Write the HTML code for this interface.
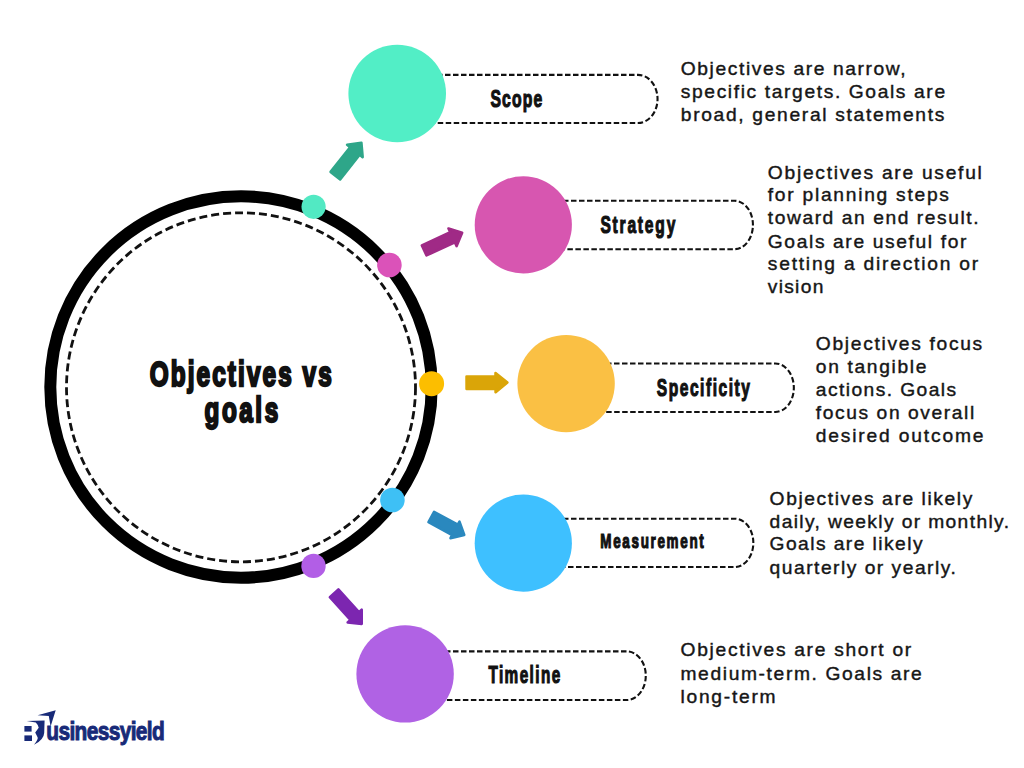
<!DOCTYPE html>
<html><head><meta charset="utf-8"><title>Objectives vs goals</title>
<style>
html,body{margin:0;padding:0;background:#fff;}
body{width:1024px;height:768px;overflow:hidden;}
svg{display:block;}
text{font-family:"Liberation Sans",sans-serif;}
.lbl{font-weight:bold;fill:#111;stroke:#111;stroke-width:1.2px;}
.body{fill:#161616;font-size:18.3px;stroke:#161616;stroke-width:0.4px;}
</style></head><body>
<svg width="1024" height="768" viewBox="0 0 1024 768">
<rect width="1024" height="768" fill="#fff"/>

<path d="M397.0 74.9 H638.0 A19.5 24.0 0 0 1 638.0 123.0 H397.0" fill="none" stroke="#111" stroke-width="2.1" stroke-dasharray="5.5 2.5"/>
<path d="M523.0 200.7 H734.4 A18.5 24.2 0 0 1 734.4 249.2 H523.0" fill="none" stroke="#111" stroke-width="2.1" stroke-dasharray="5.5 2.5"/>
<path d="M566.0 363.5 H775.3 A18.5 24.2 0 0 1 775.3 412.0 H566.0" fill="none" stroke="#111" stroke-width="2.1" stroke-dasharray="5.5 2.5"/>
<path d="M523.0 518.7 H734.8 A18.5 24.1 0 0 1 734.8 567.0 H523.0" fill="none" stroke="#111" stroke-width="2.1" stroke-dasharray="5.5 2.5"/>
<path d="M405.0 651.4 H626.8 A19.0 24.3 0 0 1 626.8 700.0 H405.0" fill="none" stroke="#111" stroke-width="2.1" stroke-dasharray="5.5 2.5"/>
<circle cx="241" cy="387" r="190.7" fill="#fff" stroke="#000" stroke-width="12"/>
<circle cx="241" cy="387.3" r="174.5" fill="none" stroke="#111" stroke-width="2.8" stroke-dasharray="8 4"/>
<circle cx="397.2" cy="93.5" r="48.8" fill="#52EEC6"/>
<circle cx="523.3" cy="224.8" r="48.6" fill="#D756B0"/>
<circle cx="566.1" cy="383.6" r="48.7" fill="#FAC044"/>
<circle cx="523.3" cy="543.2" r="48.6" fill="#3EC0FF"/>
<circle cx="405.1" cy="673.9" r="48.7" fill="#B062E4"/>
<circle cx="313.6" cy="206.8" r="12.1" fill="#52E9C3"/>
<circle cx="389.4" cy="265.0" r="12.3" fill="#DB52B9"/>
<circle cx="431.6" cy="383.7" r="12.5" fill="#FCBE00"/>
<circle cx="392.4" cy="500.0" r="12.3" fill="#3EC0F5"/>
<circle cx="313.5" cy="565.9" r="12.2" fill="#B25EE6"/>
<polygon points="330.59,171.91 350.08,147.21 347.10,144.85 361.39,142.72 362.64,157.12 359.66,154.77 340.17,179.47" fill="#2EA689" stroke="#2EA689" stroke-width="2.6" stroke-linejoin="round"/>
<polygon points="421.89,245.43 450.25,232.29 448.49,228.48 462.12,232.85 456.65,246.08 454.88,242.27 426.52,255.41" fill="#A02A86" stroke="#A02A86" stroke-width="2.6" stroke-linejoin="round"/>
<polygon points="466.55,376.50 495.54,376.36 495.53,372.96 507.40,382.51 495.61,392.16 495.60,388.76 466.61,388.90" fill="#DAA508" stroke="#DAA508" stroke-width="2.6" stroke-linejoin="round"/>
<polygon points="434.08,511.83 457.80,524.71 459.49,521.59 464.26,534.88 450.52,538.11 452.21,534.99 428.49,522.11" fill="#2A88BE" stroke="#2A88BE" stroke-width="2.6" stroke-linejoin="round"/>
<polygon points="338.39,589.42 358.94,612.17 361.68,609.69 361.73,623.84 347.66,622.36 350.40,619.88 329.86,597.13" fill="#7C26B0" stroke="#7C26B0" stroke-width="2.6" stroke-linejoin="round"/>
<text class="lbl" transform="translate(149.8,385.8) scale(0.68,1)" font-size="35.8" textLength="267.6" lengthAdjust="spacing" style="stroke-width:2.4px">Objectives vs</text>
<text class="lbl" transform="translate(204.6,421.5) scale(0.68,1)" font-size="35.8" textLength="108.2" lengthAdjust="spacing" style="stroke-width:2.4px">goals</text>
<text class="lbl" transform="translate(490.4,107.3) scale(0.64,1)" font-size="24.6" textLength="80.9" lengthAdjust="spacing">Scope</text>
<text class="lbl" transform="translate(600.4,233.4) scale(0.64,1)" font-size="24.3" textLength="117.0" lengthAdjust="spacing">Strategy</text>
<text class="lbl" transform="translate(656.8,396.2) scale(0.64,1)" font-size="24.3" textLength="145.5" lengthAdjust="spacing">Specificity</text>
<text class="lbl" transform="translate(600.3,548.2) scale(0.64,1)" font-size="21.0" textLength="161.7" lengthAdjust="spacing">Measurement</text>
<text class="lbl" transform="translate(488.4,682.8) scale(0.64,1)" font-size="23.9" textLength="112.3" lengthAdjust="spacing">Timeline</text>
<text class="body" transform="translate(680.8,75.3) scale(1.05,1)" textLength="214.0" lengthAdjust="spacing">Objectives are narrow,</text>
<text class="body" transform="translate(680.8,98.2) scale(1.05,1)" textLength="251.7" lengthAdjust="spacing">specific targets. Goals are</text>
<text class="body" transform="translate(680.8,121.0) scale(1.05,1)" textLength="251.0" lengthAdjust="spacing">broad, general statements</text>
<text class="body" transform="translate(767.8,178.6) scale(1.05,1)" textLength="203.9" lengthAdjust="spacing">Objectives are useful</text>
<text class="body" transform="translate(767.8,201.2) scale(1.05,1)" textLength="172.5" lengthAdjust="spacing">for planning steps</text>
<text class="body" transform="translate(767.8,224.4) scale(1.05,1)" textLength="200.7" lengthAdjust="spacing">toward an end result.</text>
<text class="body" transform="translate(767.8,247.5) scale(1.05,1)" textLength="189.1" lengthAdjust="spacing">Goals are useful for</text>
<text class="body" transform="translate(767.8,270.1) scale(1.05,1)" textLength="200.3" lengthAdjust="spacing">setting a direction or</text>
<text class="body" transform="translate(767.8,292.7) scale(1.05,1)" textLength="52.9" lengthAdjust="spacing">vision</text>
<text class="body" transform="translate(815.8,350.0) scale(1.05,1)" textLength="158.5" lengthAdjust="spacing">Objectives focus</text>
<text class="body" transform="translate(815.8,373.0) scale(1.05,1)" textLength="105.4" lengthAdjust="spacing">on tangible</text>
<text class="body" transform="translate(815.8,395.9) scale(1.05,1)" textLength="133.7" lengthAdjust="spacing">actions. Goals</text>
<text class="body" transform="translate(815.8,419.1) scale(1.05,1)" textLength="150.9" lengthAdjust="spacing">focus on overall</text>
<text class="body" transform="translate(815.8,442.3) scale(1.05,1)" textLength="159.7" lengthAdjust="spacing">desired outcome</text>
<text class="body" transform="translate(769.6,504.6) scale(1.05,1)" textLength="193.0" lengthAdjust="spacing">Objectives are likely</text>
<text class="body" transform="translate(769.6,527.8) scale(1.05,1)" textLength="228.0" lengthAdjust="spacing">daily, weekly or monthly.</text>
<text class="body" transform="translate(769.6,550.4) scale(1.05,1)" textLength="145.6" lengthAdjust="spacing">Goals are likely</text>
<text class="body" transform="translate(769.6,573.6) scale(1.05,1)" textLength="177.3" lengthAdjust="spacing">quarterly or yearly.</text>
<text class="body" transform="translate(680.5,656.4) scale(1.05,1)" textLength="219.7" lengthAdjust="spacing">Objectives are short or</text>
<text class="body" transform="translate(680.5,679.6) scale(1.05,1)" textLength="229.8" lengthAdjust="spacing">medium-term. Goals are</text>
<text class="body" transform="translate(680.5,702.5) scale(1.05,1)" textLength="90.5" lengthAdjust="spacing">long-term</text>
<g fill="#182A78">
<rect x="24.4" y="726" width="7.2" height="5.6"/>
<rect x="24.4" y="735.4" width="7.6" height="5.6"/>
<path d="M26.7 721.1 L44.6 720.6 L44.2 733 Q43.8 740 34 744.8 Q38.5 739 37.6 737.2 Q36 734 35.2 732.5 Q37.5 729.5 38.7 727.8 Q37.5 724 35.8 722.6 Z"/>
<path d="M37.6 715.3 L55.7 710.3 L50.6 726.5 L48.8 716 Z"/>
<text transform="translate(46.3,740.3) scale(0.82,1)" font-size="25.5" font-weight="bold" stroke="#182A78" stroke-width="1" textLength="144.5" lengthAdjust="spacing">usinessyield</text>
</g>
</svg>
</body></html>
